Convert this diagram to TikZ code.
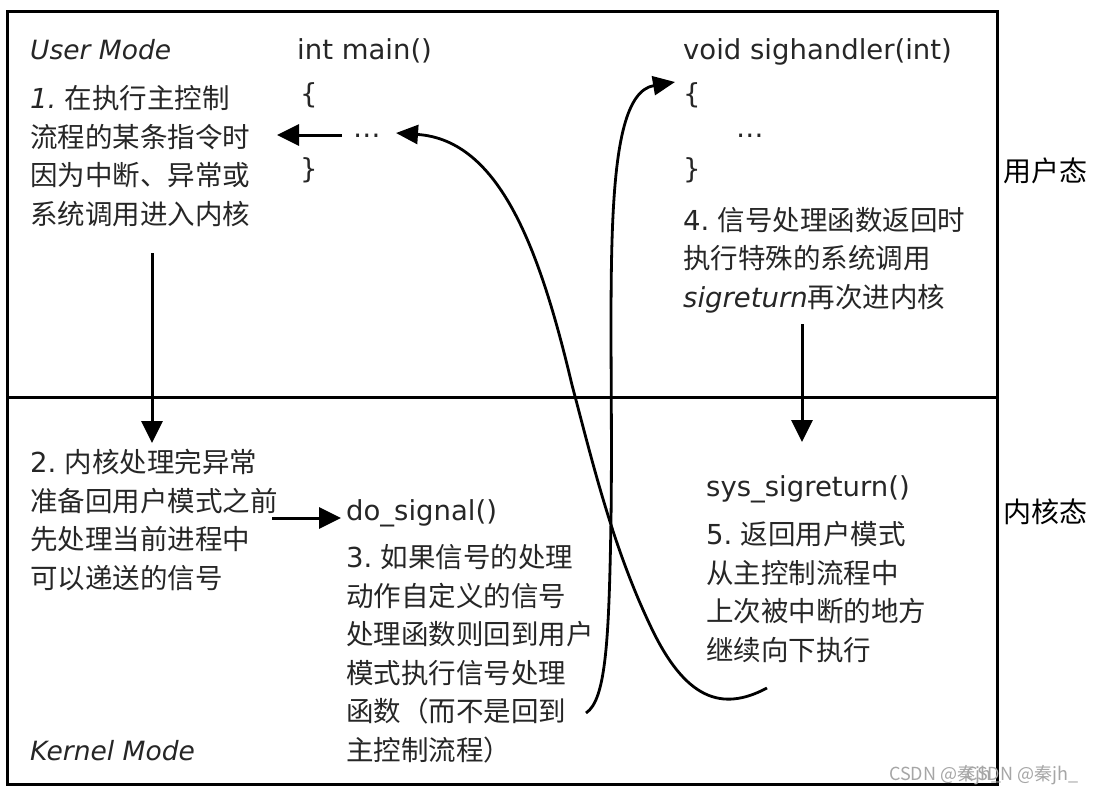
\documentclass[tikz,border=0pt]{standalone}
\usepackage{fontspec}
\setmainfont{DejaVu Sans}
\newfontfamily\cjk{Noto Sans CJK SC}
\newfontfamily\dvs{DejaVu Sans}
\usetikzlibrary{arrows.meta}
\begin{document}
\begin{tikzpicture}[x=1pt,y=-1pt,
  lat/.style={font={\dvs\fontsize{27.5}{38}\selectfont}, text=black!85, inner sep=0pt, anchor=base west},
  latit/.style={font={\dvs\itshape\fontsize{26.5}{38}\selectfont}, text=black!85, inner sep=0pt, anchor=base west},
  cjktxt/.style={font={\cjk\fontsize{27.5}{38.5}\selectfont}, text=black!85, align=left, inner sep=0pt, anchor=base west},
  side/.style={font={\cjk\fontsize{28}{30}\selectfont}, text=black, inner sep=0pt, anchor=base west},
  wm/.style={font={\cjk\fontsize{18}{20}\selectfont}, text=black!35, inner sep=0pt, anchor=base west},
  arr/.style={line width=3pt, -{Triangle[length=22pt,width=21pt]}},
  carr/.style={line width=2.8pt, -{Triangle[length=22pt,width=19pt]}}
]
\useasboundingbox (0,0) rectangle (1101,792);
\fill[white] (0,0) rectangle (1101,792);

% frame and divider
\draw[line width=3pt] (7,12) rectangle (997,784);
\draw[line width=3pt] (7,397) -- (997,397);

% user mode, left (multi-line nodes: base = last line)
\node[latit] (um) at (30,60) {User Mode};
\node[cjktxt] (t1) at (30,224) {{\dvs\itshape 1.} 在执行主控制\\流程的某条指令时\\因为中断、异常或\\系统调用进入内核};

% int main
\node[lat] (main) at (297,60) {int main()};
\node[lat] (mlb) at (300,103) {\{};
\node[lat] (mdots) at (353,137) {…};
\node[lat] (mrb) at (300,178) {\}};

% sighandler
\node[lat] (sig) at (683,60) {void sighandler(int)};
\node[lat] (slb) at (683,103) {\{};
\node[lat] (sdots) at (736,137) {…};
\node[lat] (srb) at (683,178) {\}};
\node[cjktxt] (t4) at (683,307) {{\dvs 4.} 信号处理函数返回时\\执行特殊的系统调用\\{\dvs\itshape sigreturn}再次进内核};

% kernel mode
\node[cjktxt] (t2) at (30,588) {{\dvs 2.} 内核处理完异常\\准备回用户模式之前\\先处理当前进程中\\可以递送的信号};
\node[lat] (dosig) at (346,520) {do\_signal()};
\node[cjktxt] (t3) at (346,760) {{\dvs 3.} 如果信号的处理\\动作自定义的信号\\处理函数则回到用户\\模式执行信号处理\\函数（而不是回到\\主控制流程）};
\node[latit] (km) at (30,760) {Kernel Mode};
\node[lat] (sysret) at (706,496) {sys\_sigreturn()};
\node[cjktxt] (t5) at (706,660) {{\dvs 5.} 返回用户模式\\从主控制流程中\\上次被中断的地方\\继续向下执行};

% side labels
\node[side] (ut) at (1003,181) {用户态};
\node[side] (kt) at (1003,522) {内核态};

% watermark
\node[wm] (wm1) at (889,780) {CSDN @秦jh\_};
\node[wm] (wm2) at (966,780) {CSDN @秦jh\_};

% connectors
\coordinate (a0s) at (342,135);
\coordinate (a0e) at (277,135);
\draw[arr] (a0s) -- (a0e);

\coordinate (a1s) at (152,253);
\coordinate (a1e) at (152,443);
\draw[arr] (a1s) -- (a1e);

\coordinate (a2s) at (272,518);
\coordinate (a2e) at (341,518);
\draw[arr] (a2s) -- (a2e);

\coordinate (a4s) at (802,324);
\coordinate (a4e) at (802,442);
\draw[arr] (a4s) -- (a4e);

% curve A: from step 3 up to sighandler
\coordinate (cA) at (586,713);
\coordinate (cAe) at (675,82);
\draw[carr] (cA) .. controls (606,700) and (609,640) .. (611,520)
  .. controls (614,300) and (598,95) .. (cAe);

% curve B: from step 5 back to main
\coordinate (cB) at (767,688);
\coordinate (cBe) at (396,133);
\draw[carr] (cB) .. controls (722,712) and (685,700) .. (650,625)
  .. controls (612,545) and (592,460) .. (572,385)
  .. controls (540,250) and (500,140) .. (cBe);
\end{tikzpicture}
\end{document}
